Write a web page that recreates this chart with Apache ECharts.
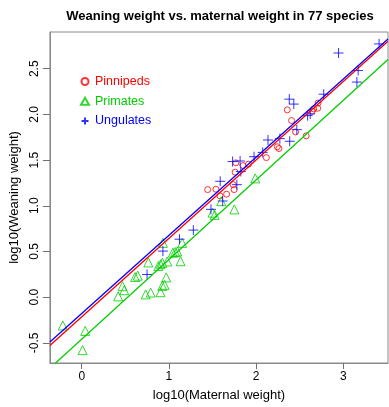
<!DOCTYPE html>
<html>
<head>
<meta charset="utf-8">
<script src="https://cdn.jsdelivr.net/npm/echarts@6/dist/echarts.min.js"></script>
<style>
  html, body { margin: 0; padding: 0; background: #fff; }
  #chart { width: 389px; height: 407px; }
</style>
</head>
<body>
<div id="chart"></div>
<script>
// log10 maternal weight (x) and log10 weaning weight (y) per species, by group
var pinnipedX = [1.444, 1.539, 1.585, 1.661, 1.737, 1.748, 1.759, 1.767, 1.85, 1.912, 2.117,
                 2.243, 2.262, 2.357, 2.406, 2.452, 2.574, 2.642, 2.66, 2.706, 2.71];
var pinnipedY = [1.177, 1.181, 1.109, 1.127, 1.231, 1.177, 1.368, 1.47, 1.44, 1.455, 1.527,
                 1.646, 1.627, 2.05, 1.933, 1.808, 1.765, 2.035, 2.06, 2.067, 2.124];

var primateX = [-0.217, 0.04, 0.01, 0.418, 0.487, 0.468, 0.612, 0.642, 0.733, 0.79, 0.764,
                0.931, 0.878, 0.904, 0.924, 0.98, 0.969, 0.904, 0.924, 0.95, 1.045, 1.072,
                1.095, 1.133, 1.152, 1.50, 1.525, 1.60, 1.75, 1.99];
var primateY = [-0.31, -0.37, -0.58, 0.008, 0.076, 0.12, 0.22, 0.235, 0.03, 0.05, 0.38,
                0.594, 0.34, 0.36, 0.375, 0.39, 0.216, 0.054, 0.123, 0.134, 0.486, 0.494,
                0.50, 0.393, 0.594, 0.925, 0.90, 1.05, 0.96, 1.30];

var ungulateX = [0.749, 0.931, 1.121, 1.28, 1.482, 1.588, 1.616, 1.73, 1.816, 1.824, 1.779,
                 1.976, 2.075, 2.136, 2.272, 2.385, 2.466, 2.38, 2.432, 2.59, 2.62, 2.775,
                 2.945, 3.155, 3.17, 3.41];
var ungulateY = [0.248, 0.504, 0.634, 0.734, 0.961, 1.268, 1.052, 1.484, 1.49, 1.376, 1.231,
                 1.537, 1.584, 1.72, 1.735, 1.706, 1.833, 2.167, 2.113, 1.987, 2.005, 2.221,
                 2.672, 2.354, 2.48, 2.772];

// fitted regression lines, evaluated at the two ends of the x range
var fitX = [-0.365, 3.512];
var pinnipedFitY = [-0.53, 2.80];
var primateFitY = [-0.778, 2.60];
var ungulateFitY = [-0.49, 2.825];

// axis ticks
var xTicks = [0, 1, 2, 3];
var yTicks = [-0.5, 0.0, 0.5, 1.0, 1.5, 2.0, 2.5];

function pairs(xs, ys) {
  return xs.map(function (x, i) { return [x, ys[i]]; });
}

var RED = '#FF0000', GREEN = '#00CD00', BLUE = '#0000FF';
var FONT = '"Liberation Sans", Arial, sans-serif';
var PLUS = 'path://M0,5L10,5M5,0L5,10';
var BOX = '#8a8a8a';

var chart = echarts.init(document.getElementById('chart'), null, { renderer: 'canvas' });

function scatter(name, xs, ys, symbol, size, color) {
  return {
    name: name, type: 'scatter', data: pairs(xs, ys),
    symbol: symbol, symbolSize: size, z: 2,
    itemStyle: { color: 'rgba(0,0,0,0)', borderColor: color, borderWidth: 1 },
    emphasis: { disabled: true }
  };
}
function fit(name, ys, color, z) {
  return {
    name: name, type: 'line', data: pairs(fitX, ys), symbol: 'none', z: z,
    clip: true, lineStyle: { color: color, width: 1.3 }, silent: true
  };
}

chart.setOption({
  animation: false,
  title: {
    text: 'Weaning weight vs. maternal weight in 77 species',
    left: 215, top: 5, textAlign: 'center',
    textStyle: { fontFamily: FONT, fontSize: 13, fontWeight: 'bold', color: '#000' }
  },
  grid: { left: 48, right: 1, top: 32, bottom: 39.5, show: true, borderColor: BOX, borderWidth: 1 },
  legend: {
    orient: 'vertical', left: 75, top: 69.5,
    itemWidth: 8, itemHeight: 7, itemGap: 5.7,
    textStyle: { fontFamily: FONT, fontSize: 12.5, lineHeight: 14, padding: [0, 0, 0, 1] },
    data: [
      { name: 'Pinnipeds', textStyle: { color: RED } },
      { name: 'Primates', textStyle: { color: GREEN } },
      { name: 'Ungulates', textStyle: { color: BLUE } }
    ],
    selectedMode: false
  },
  xAxis: {
    type: 'value', min: -0.365, max: 3.512,
    name: 'log10(Maternal weight)', nameLocation: 'middle', nameGap: 26,
    nameTextStyle: { fontFamily: FONT, fontSize: 13, color: '#000' },
    axisLine: { show: true, onZero: false, lineStyle: { color: BOX, width: 1 } },
    splitLine: { show: false },
    axisTick: { show: true, length: 6, customValues: xTicks, lineStyle: { color: '#707070', width: 1 } },
    axisLabel: { customValues: xTicks, margin: 8, fontFamily: FONT, fontSize: 12, color: '#000',
                 formatter: function (v) { return String(v); } }
  },
  yAxis: {
    type: 'value', min: -0.721, max: 2.902,
    name: 'log10(Weaning weight)', nameLocation: 'middle', nameGap: 23, nameRotate: 90,
    nameTextStyle: { fontFamily: FONT, fontSize: 13, color: '#000' },
    axisLine: { show: true, onZero: false, lineStyle: { color: BOX, width: 1 } },
    splitLine: { show: false },
    axisTick: { show: true, length: 7, customValues: yTicks, lineStyle: { color: '#707070', width: 1 } },
    axisLabel: { customValues: yTicks, rotate: 90, margin: 9, fontFamily: FONT, fontSize: 12, color: '#000',
                 formatter: function (v) { return v.toFixed(1); } }
  },
  series: [
    scatter('Pinnipeds', pinnipedX, pinnipedY, 'circle', 6, RED),
    scatter('Primates', primateX, primateY, 'triangle', 9, GREEN),
    scatter('Ungulates', ungulateX, ungulateY, PLUS, 10, BLUE),
    fit('Pinnipeds fit', pinnipedFitY, RED, 3),
    fit('Primates fit', primateFitY, GREEN, 3),
    fit('Ungulates fit', ungulateFitY, BLUE, 4)
  ]
});
</script>
</body>
</html>
